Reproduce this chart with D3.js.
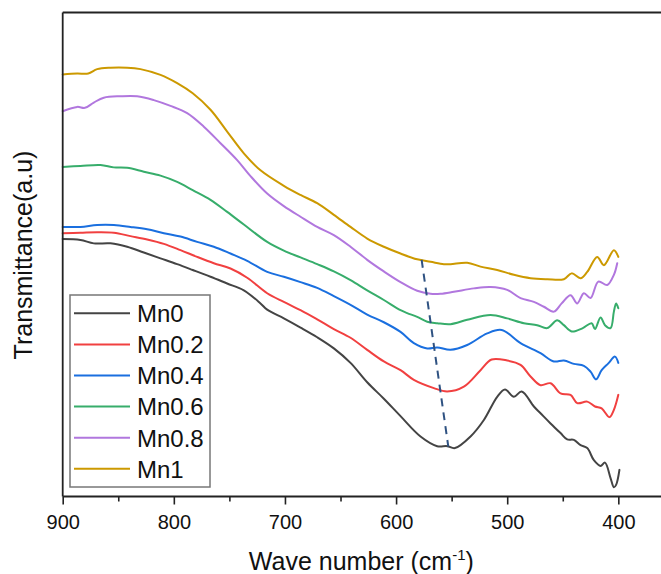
<!DOCTYPE html>
<html>
<head>
<meta charset="utf-8">
<script src="https://cdn.jsdelivr.net/npm/d3@7"></script>
<style>
  body { margin: 0; background: #fff; }
  svg { display: block; }
  text { font-family: "Liberation Sans", Arial, sans-serif; fill: #111; }
</style>
</head>
<body>
<svg id="chart" width="661" height="574"></svg>
<script>
// ---- FTIR spectra (transmittance, arbitrary units, curves offset vertically) ----
const seriesNames = ["Mn0", "Mn0.2", "Mn0.4", "Mn0.6", "Mn0.8", "Mn1"];
const seriesColors = ["#444444", "#f14040", "#1a6fdf", "#37ad6b", "#b177de", "#cc9900"];

const mn0Wave = [900,884,872,857,842,827,812,797,783,767,752,737,722,716,701,686,671,656,641,626,611,596,578,563,554,547,533,521,509,502,494,487,476,470,461,452,446,440,434,428,422,416,412,407,404,402,399];
const mn0T    = [53.2,53.0,52.3,52.3,51.6,50.4,49.2,48.0,46.8,45.4,44.0,42.6,39.9,38.6,36.8,34.9,32.9,30.6,27.6,23.6,20.2,16.6,12.4,10.4,10.4,10.0,12.4,15.8,20.6,22.1,20.6,21.7,18.6,17.2,15.1,13.1,11.8,11.7,10.6,10.0,7.5,6.3,7.0,3.8,1.9,2.4,5.5];

const mn02Wave = [900,884,869,854,839,824,809,794,779,764,749,734,716,701,686,671,656,641,626,611,596,584,566,554,539,524,514,500,488,479,470,461,452,443,437,428,421,415,408,404,400];
const mn02T    = [54.4,54.5,54.6,54.5,53.8,53.1,52.2,50.9,49.5,48.2,47.1,45.2,42.0,40.2,38.5,36.6,34.6,32.8,30.3,27.9,26.1,24.1,22.4,21.7,22.7,26.1,28.3,28.1,27.2,24.8,23.0,23.4,21.3,21.0,19.3,19.6,18.6,18.2,16.4,17.9,21.0];

const mn04Wave = [900,884,869,854,839,824,809,794,779,764,749,734,716,701,686,671,656,641,626,611,596,584,572,563,551,536,518,505,488,470,458,449,440,431,425,420,415,409,403,400];
const mn04T    = [55.7,55.7,56.1,56.1,55.7,55.2,54.4,53.7,52.6,51.6,50.2,48.7,46.4,45.4,44.3,43.1,41.4,39.6,37.6,36.0,34.0,31.7,30.6,30.8,30.3,31.3,33.7,34.4,31.7,29.6,27.9,28.1,27.4,27.0,25.8,24.2,26.1,27.5,28.9,27.6];

const mn06Wave = [900,884,866,854,842,827,812,797,783,767,752,737,716,701,686,671,656,641,626,611,596,590,581,572,563,551,536,515,500,485,473,464,455,449,442,432,424,421,416,412,407,404,402,400];
const mn06T    = [68.1,68.3,68.5,68.0,67.9,67.1,66.3,65.0,63.3,61.3,58.8,56.2,52.6,50.8,49.4,48.0,46.5,44.7,42.6,40.6,38.5,37.9,37.1,36.1,35.8,35.6,36.5,37.5,36.8,35.8,35.4,34.8,36.4,35.4,34.1,34.8,35.8,34.6,37.0,35.4,34.8,38.2,39.9,38.9];

const mn08Wave = [900,887,880,872,863,848,833,818,803,788,773,758,743,731,716,701,686,671,656,641,626,611,596,581,569,560,548,530,515,500,488,476,467,458,451,443,437,431,425,418,410,404,401];
const mn08T    = [79.6,80.5,80.3,81.4,82.4,82.7,82.7,81.9,80.7,79.2,76.4,73.0,69.5,66.2,62.6,60.0,57.8,55.7,54.0,51.6,48.9,46.5,44.3,42.5,41.9,41.9,42.3,43.0,43.3,42.7,41.0,40.2,39.2,38.2,39.9,41.6,39.9,42.0,41.0,44.4,43.7,45.8,48.2];

const mn1Wave = [900,887,877,869,857,842,830,812,797,783,767,752,737,722,701,686,671,656,641,626,611,596,581,569,557,551,536,524,509,494,479,464,449,442,434,428,419,413,404,400];
const mn1T    = [87.2,87.4,87.4,88.3,88.6,88.6,88.3,87.1,85.4,83.3,79.9,75.4,70.9,67.4,64.2,62.3,60.6,58.2,55.7,53.3,51.6,50.2,49.0,48.5,48.0,48.0,48.3,47.5,46.8,45.8,45.1,44.9,44.9,46.1,45.1,46.4,49.5,47.8,50.9,49.5];

// dashed guide tracing the shift of the band minimum
const guideWave = [577, 553];
const guideT = [48.9, 10.3];

const xMajorTicks = [900, 800, 700, 600, 500, 400];
const xMinorTicks = [850, 750, 650, 550, 450];

// ---- layout ----
const svg = d3.select("#chart");
const plot = { left: 62.7, right: 660, top: 12.5, bottom: 496.5 };

const x = d3.scaleLinear().domain([900, 362.5]).range([plot.left, plot.right]);
const y = d3.scaleLinear().domain([0, 100]).range([plot.bottom, plot.top]);

const series = [
  { wave: mn0Wave,  t: mn0T },
  { wave: mn02Wave, t: mn02T },
  { wave: mn04Wave, t: mn04T },
  { wave: mn06Wave, t: mn06T },
  { wave: mn08Wave, t: mn08T },
  { wave: mn1Wave,  t: mn1T }
].map((s, i) => ({
  name: seriesNames[i],
  color: seriesColors[i],
  points: s.wave.map((w, j) => ({ w, t: s.t[j] }))
}));

const line = d3.line()
  .x(d => x(d.w))
  .y(d => y(d.t))
  .curve(d3.curveCatmullRom.alpha(0.5));

// spectra
svg.append("g")
  .selectAll("path")
  .data(series)
  .join("path")
  .attr("d", d => line(d.points))
  .attr("fill", "none")
  .attr("stroke", d => d.color)
  .attr("stroke-width", 2)
  .attr("stroke-linejoin", "round")
  .attr("stroke-linecap", "round");

// dashed guide
svg.append("path")
  .attr("d", d3.line().x(d => x(d.w)).y(d => y(d.t))(guideWave.map((w, i) => ({ w, t: guideT[i] }))))
  .attr("fill", "none")
  .attr("stroke", "#2f5282")
  .attr("stroke-width", 2)
  .attr("stroke-dasharray", "8,6");

// frame: left and top edges
const frame = svg.append("g").attr("stroke", "#222").attr("stroke-width", 1.8);
frame.append("line").attr("x1", plot.left).attr("x2", plot.left).attr("y1", plot.top).attr("y2", plot.bottom);
frame.append("line").attr("x1", plot.left).attr("x2", 661).attr("y1", plot.top).attr("y2", plot.top);

// bottom axis with major and minor ticks
const xAxis = d3.axisBottom(x)
  .tickValues(xMajorTicks)
  .tickSize(8)
  .tickSizeOuter(0)
  .tickPadding(10);
const gx = svg.append("g").attr("transform", `translate(0,${plot.bottom})`).call(xAxis);
gx.select(".domain").attr("stroke", "#222").attr("stroke-width", 1.8).attr("d", `M${plot.left},0H661`);
gx.selectAll(".tick line").attr("stroke", "#222").attr("stroke-width", 1.6);
gx.selectAll(".tick text")
  .attr("font-size", 20)
  .attr("font-family", "Liberation Sans, Arial, sans-serif")
  .attr("fill", "#111")
  .attr("y", 32.5)
  .attr("dy", null);

const gxMinor = svg.append("g").attr("transform", `translate(0,${plot.bottom})`)
  .call(d3.axisBottom(x).tickValues(xMinorTicks).tickSize(5).tickSizeOuter(0).tickFormat(""));
gxMinor.select(".domain").remove();
gxMinor.selectAll(".tick line").attr("stroke", "#222").attr("stroke-width", 1.6);

// axis titles
const xTitle = svg.append("text")
  .attr("x", (plot.left + plot.right) / 2)
  .attr("y", 570)
  .attr("text-anchor", "middle")
  .attr("font-size", 25);
xTitle.append("tspan").text("Wave number (cm");
xTitle.append("tspan").attr("font-size", 15).attr("dy", -10).text("-1");
xTitle.append("tspan").attr("dy", 10).text(")");

svg.append("text")
  .attr("transform", "translate(32,255) rotate(-90)")
  .attr("text-anchor", "middle")
  .attr("font-size", 25)
  .text("Transmittance(a.u)");

// legend
const legend = svg.append("g");
legend.append("rect")
  .attr("x", 70).attr("y", 295)
  .attr("width", 140).attr("height", 192)
  .attr("fill", "#fff")
  .attr("stroke", "#777")
  .attr("stroke-width", 1.5);

const rows = legend.selectAll("g.row")
  .data(series)
  .join("g")
  .attr("class", "row")
  .attr("transform", (d, i) => `translate(0,${313.3 + i * 31.1})`);
rows.append("line")
  .attr("x1", 74).attr("x2", 130)
  .attr("stroke", d => d.color)
  .attr("stroke-width", 2);
rows.append("text")
  .attr("x", 137)
  .attr("y", 8.8)
  .attr("font-size", 24)
  .text(d => d.name);
</script>
</body>
</html>
